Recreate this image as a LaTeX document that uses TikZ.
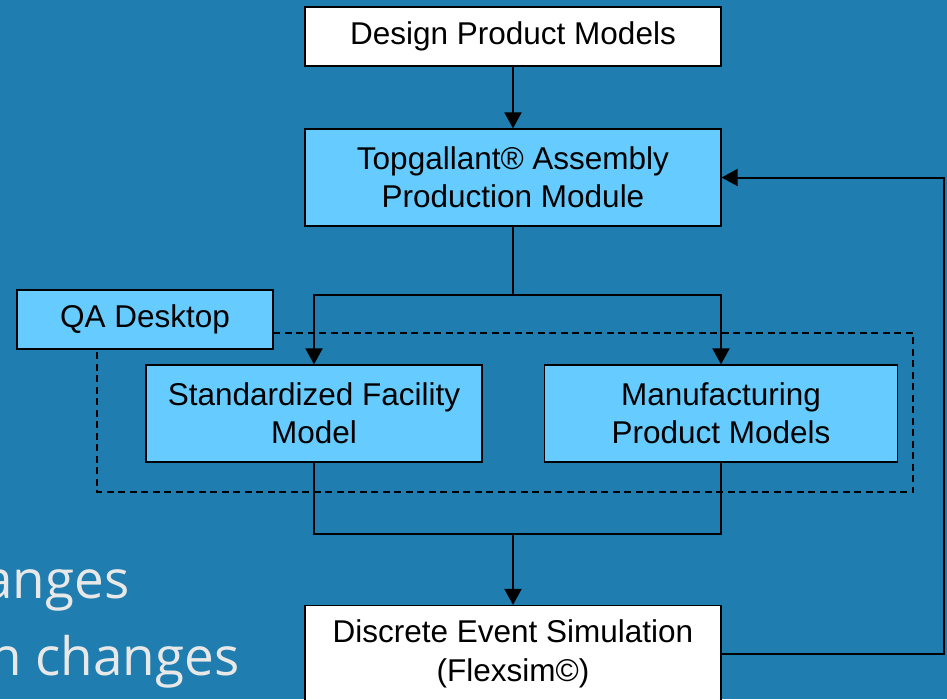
\documentclass[tikz,border=0pt]{standalone}
\usepackage{fontspec}
\setmainfont{Liberation Sans}
\newfontfamily\slidefont{Open Sans}
\usepackage{tikz}
\usetikzlibrary{positioning}
\usetikzlibrary{arrows.meta}
\definecolor{SlideBlue}{HTML}{1F7DAF}
\definecolor{BoxBlue}{HTML}{66CCFF}
\definecolor{SlideText}{HTML}{E8E8E8}

\begin{document}
\begin{tikzpicture}[x=1pt, y=-1pt,
	box/.style={rectangle, draw=black, line width=1.3pt, inner sep=0pt, align=center,
		font=\fontsize{31.5}{38}\selectfont, text=black},
	plain/.style={box, fill=white},
	blue/.style={box, fill=BoxBlue},
	post/.style={-{Triangle[width=17pt,length=16pt]}, draw, line width=2pt},
	link/.style={draw, line width=2pt},
	group/.style={draw, line width=1.8pt, dash pattern=on 7pt off 4.5pt},
	bullet/.style={anchor=base east, text=SlideText, font=\slidefont\fontsize{53}{64}\selectfont}]

	\useasboundingbox (0,0) rectangle (947,699);
	\fill[SlideBlue] (0,0) rectangle (947,699);

	% Slide text behind
	\node[bullet] (t1) at (133,598) {anges};
	\node[bullet] (t2) at (243,675) {n changes};

	% Group
	\draw[group] (273,333) -- (913,333) -- (913,492) -- (97,492) -- (97,349);

	% Boxes
	\node[plain, minimum width=416pt, minimum height=59pt] (design) at (513,36.5) {Design Product Models};
	\node[blue, minimum width=416pt, minimum height=97pt] (topg) at (513,177.5) {Topgallant\textregistered{} Assembly\\Production Module};
	\node[blue, minimum width=256pt, minimum height=59pt] (qa) at (145,319.5) {QA Desktop};
	\node[blue, minimum width=336pt, minimum height=97pt] (std) at (314,413.5) {Standardized Facility\\Model};
	\node[blue, minimum width=353pt, minimum height=97pt] (mfg) at (721,413.5) {Manufacturing\\Product Models};
	\node[plain, minimum width=416pt, minimum height=97pt, font=\fontsize{31.5}{39}\selectfont] (des) at (513,654) {Discrete Event Simulation\\(Flexsim\textcopyright)};

	\coordinate (split) at (513,295);
	\coordinate (join) at (513,534);

	% Flow
	\path[post] (design) -- (topg);
	\path[link] (topg.south) -- (split);
	\path[post] (split) -| (std.north);
	\path[post] (split) -| (mfg.north);
	\path[link] (std.south) |- (join) -| (mfg.south);
	\path[post] (join) -- (des.north);
	\path[post] (des.east) -- ++(222,0) |- (topg.east);

\end{tikzpicture}
\end{document}
